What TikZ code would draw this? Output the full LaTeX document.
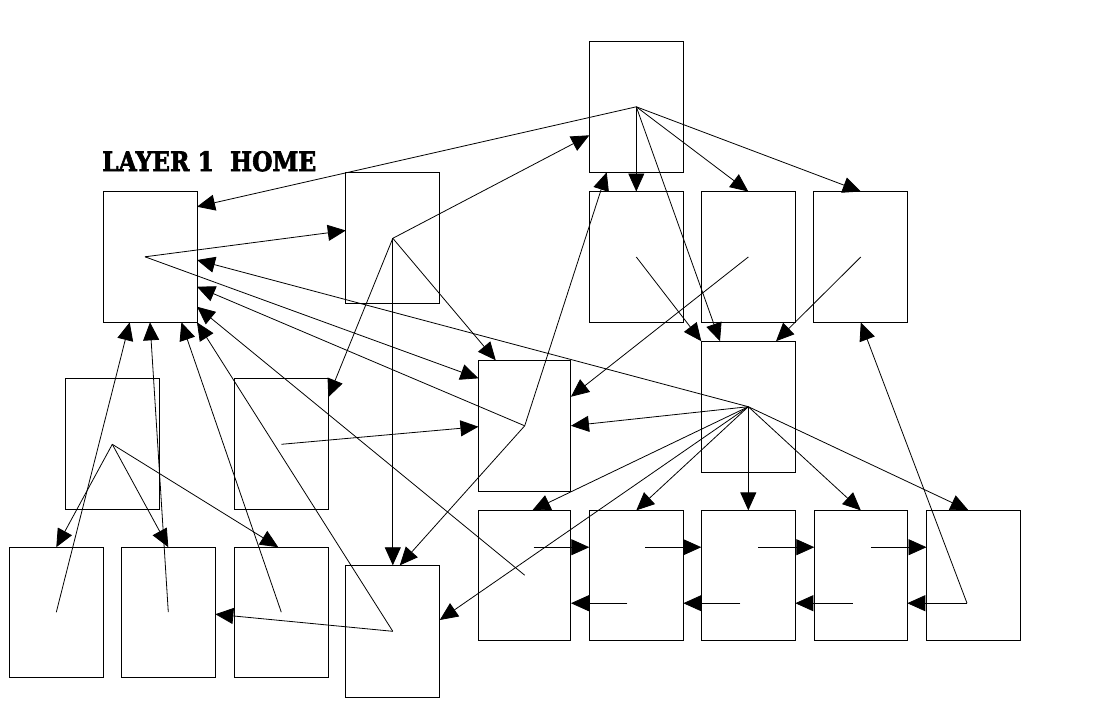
\documentclass[tikz,border=0pt]{standalone}
\usepackage{fontspec}
\usepackage{graphicx}
\usetikzlibrary{arrows.meta,calc}
\newfontfamily\titlefont[FakeBold=2.5]{DejaVu Serif Bold}
\tikzset{
  box/.style={draw, line width=1pt, minimum width=94pt, minimum height=131pt, inner sep=0pt, outer sep=0pt},
  arr/.style={line width=0.8pt, -{Triangle[length=18pt,width=16pt]}},
  ln/.style={line width=0.8pt}
}
\begin{document}
\begin{tikzpicture}[x=1pt,y=-1pt]
\useasboundingbox (0,0) rectangle (1110,702);
% boxes
\node[box] (T) at (636.3,106.8) {};
\node[box] (H) at (150,256.8) {};
\node[box] (B) at (392.8,238.3) {};
\node[box] (R1) at (636.3,257) {};
\node[box] (R2) at (748.3,257) {};
\node[box] (R3) at (860.8,257) {};
\node[box] (M) at (748.3,406.7) {};
\node[box, minimum width=92.5pt] (C) at (524.7,425.8) {};
\node[box] (L1) at (112.3,444.3) {};
\node[box] (L2) at (281.3,444.3) {};
\node[box, minimum height=130pt] (BL1) at (56.3,612.2) {};
\node[box, minimum height=130pt] (BL2) at (168.3,612.2) {};
\node[box, minimum height=130pt] (BL3) at (281.3,612.2) {};
\node[box, minimum height=132pt] (D) at (392.8,631.3) {};
\node[box, minimum width=92.5pt, minimum height=129.7pt] (BR1) at (524.7,575.2) {};
\node[box, minimum height=129.7pt] (BR2) at (636.3,575.2) {};
\node[box, minimum height=129.7pt] (BR3) at (748.3,575.2) {};
\node[box, minimum width=93pt, minimum height=129.7pt] (BR4) at (860.8,575.2) {};
\node[box, minimum height=129.7pt] (BR5) at (973.5,575.2) {};
% title
\node[anchor=south west, inner sep=0pt] (title) at (102,171.7) {\resizebox{214pt}{20pt}{\titlefont LAYER 1\ \ HOME}};
% inner points
\coordinate (hp) at ($(H.center)+(-5,0)$);
\coordinate (p5) at ($(BR5.center)+(-6.5,28)$);
% from T
\draw[arr] (T.center) -- ($(H.north east)+(0,15.4)$);
\draw[arr] (T.center) -- (R1.north);
\draw[arr] (T.center) -- (R2.north);
\draw[arr] (T.center) -- (R3.north);
\draw[arr] (T.center) -- ($(M.north west)+(18.7,0)$);
% from H
\draw[arr] (hp) -- ($(B.north west)+(0,57.7)$);
\draw[arr] (hp) -- ($(C.north west)+(0,18)$);
% from B
\draw[arr] (B.center) -- ($(T.north west)+(0,94)$);
\draw[arr] (B.center) -- ($(L2.north east)+(0,18.4)$);
\draw[arr] (B.center) -- (D.north);
\draw[arr] (B.center) -- ($(C.north west)+(17.3,0)$);
% from L1, L2
\draw[arr] (L1.center) -- (BL1.north);
\draw[arr] (L1.center) -- (BL2.north);
\draw[arr] (L1.center) -- ($(BL3.north)+(-3,0)$);
\draw[arr] (L2.center) -- ($(C.north west)+(0,66.4)$);
% bottom-left to H
\draw[arr] (BL1.center) -- ($(H.south west)+(26.7,0)$);
\draw[arr] (BL2.center) -- (H.south);
\draw[arr] (BL3.center) -- ($(H.south west)+(78.4,0)$);
% from D
\draw[arr] (D.center) -- (H.south east);
\draw[arr] (D.center) -- ($(BL2.east)+(0,2)$);
% from M
\draw[arr] (M.center) -- ($(H.north east)+(0,68.7)$);
\draw[arr] (M.center) -- (C.east);
\draw[arr] (M.center) -- ($(BR1.north)+(7.6,0)$);
\draw[arr] (M.center) -- (BR2.north);
\draw[arr] (M.center) -- (BR3.north);
\draw[arr] (M.center) -- (BR4.north);
\draw[arr] (M.center) -- ($(BR5.north)+(-5,0)$);
\draw[arr] (M.center) -- ($(D.north east)+(0,54.7)$);
% from C
\draw[arr] (C.center) -- ($(H.north east)+(0,95.4)$);
\draw[arr] (C.center) -- ($(T.south west)+(17.4,0)$);
\draw[arr] (C.center) -- ($(D.north)+(7,0)$);
% from BR1
\draw[arr] (BR1.center) -- ($(H.north east)+(0,115.4)$);
% second row
\draw[arr] (R1.center) -- (M.north west);
\draw[arr] (R2.center) -- ($(C.north east)+(0,36.4)$);
\draw[arr] (R3.center) -- ($(M.north west)+(74.7,0)$);
\draw[arr] (p5) -- (R3.south);
% bottom row chain
\coordinate (s1) at ($(BR1.center)+(9,-28)$);
\coordinate (s2) at ($(BR2.center)+(9,-28)$);
\coordinate (s3) at ($(BR3.center)+(10,-28)$);
\coordinate (s4) at ($(BR4.center)+(10,-28)$);
\draw[arr] (s1) -- (BR2.west |- s1);
\draw[arr] (s2) -- (BR3.west |- s2);
\draw[arr] (s3) -- (BR4.west |- s3);
\draw[arr] (s4) -- (BR5.west |- s4);
\coordinate (t2) at ($(BR2.center)+(-9,28)$);
\coordinate (t3) at ($(BR3.center)+(-8,28)$);
\coordinate (t4) at ($(BR4.center)+(-8,28)$);
\draw[arr] (t2) -- (BR1.east |- t2);
\draw[arr] (t3) -- (BR2.east |- t3);
\draw[arr] (t4) -- (BR3.east |- t4);
\draw[arr] (p5) -- (BR4.east |- p5);
\end{tikzpicture}
\end{document}
